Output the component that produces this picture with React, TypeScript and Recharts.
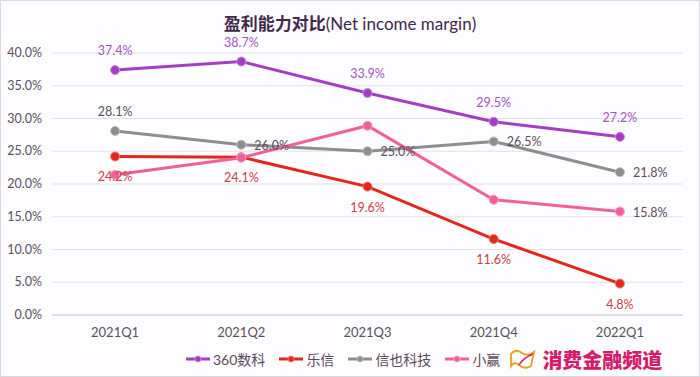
import React from "react";
import { LineChart, Line, XAxis, YAxis, CartesianGrid, Legend } from "recharts";

const quarters = ["2021Q1", "2021Q2", "2021Q3", "2021Q4", "2022Q1"];
const s360 = [37.4, 38.7, 33.9, 29.5, 27.2];
const sLexin = [24.2, 24.1, 19.6, 11.6, 4.8];
const sXinye = [28.1, 26.0, 25.0, 26.5, 21.8];
const sXiaoying = [21.4, 24.0, 28.9, 17.6, 15.8];
const yTicks = [0, 5, 10, 15, 20, 25, 30, 35, 40];

const seriesNames = ["360数科", "乐信", "信也科技", "小赢"];
const colors = ["#a43fc4", "#e2281c", "#8e8e8e", "#f0609a"];
const dotStroke = ["#c98ade", "#f07a70", "#bdbdbd", "#f7a0c2"];

const data = quarters.map((q, i) => ({
  q,
  a: s360[i],
  b: sLexin[i],
  c: sXinye[i],
  d: sXiaoying[i],
}));

const FONT = "Lato, 'Noto Sans CJK SC', sans-serif";

const fmt = (v: number) => `${v.toFixed(1)}%`;

const makeLabel = (
  color: string,
  pos: (index: number) => "top" | "bottom" | "right" | null
) => (props: any) => {
  const { x, y, value, index } = props;
  const p = pos(index);
  if (!p) return null;
  let tx = x;
  let ty = y;
  let anchor: "middle" | "start" = "middle";
  if (p === "top") ty = y - 15;
  if (p === "bottom") ty = y + 25;
  if (p === "right") {
    tx = x + 13;
    ty = y + 5;
    anchor = "start";
  }
  return (
    <text x={tx} y={ty} fill={color} fontSize={12.5} textAnchor={anchor} fontFamily={FONT}>
      {fmt(value)}
    </text>
  );
};

const XTick = (props: any) => {
  const { x, y, payload } = props;
  return (
    <text x={x} y={y + 14} fill="#5a5060" fontSize={13} textAnchor="middle" fontFamily={FONT}>
      {payload.value}
    </text>
  );
};

const YTick = (props: any) => {
  const { x, y, payload } = props;
  return (
    <text x={x - 2} y={y + 4} fill="#5a5060" fontSize={12.5} textAnchor="end" fontFamily={FONT}>
      {fmt(payload.value)}
    </text>
  );
};

const LegendContent = () => (
  <div
    style={{
      display: "flex",
      alignItems: "center",
      fontFamily: FONT,
      fontSize: 14,
      color: "#5a4a60",
      paddingLeft: 185,
      height: 28,
      whiteSpace: "nowrap",
      width: 698,
      boxSizing: "border-box",
    }}
  >
    {seriesNames.map((n, i) => (
      <div key={n} style={{ display: "flex", alignItems: "center", marginRight: i === 3 ? 8 : 14 }}>
        <svg width={24} height={10} style={{ marginRight: 3 }}>
          <line x1={0} y1={5} x2={24} y2={5} stroke={colors[i]} strokeWidth={3} />
          <circle cx={12} cy={5} r={3} fill={colors[i]} stroke={dotStroke[i]} strokeWidth={1} />
        </svg>
        <span>{n}</span>
      </div>
    ))}
    <svg width={28} height={26} style={{ marginRight: 6 }}>
      <path
        d="M3 8 Q8 2 14 7 Q20 11 26 6 L23 20 Q17 24 11 19 Q6 15 3 20 Z"
        fill="none"
        stroke="#e8a020"
        strokeWidth={1.8}
      />
      <path d="M11 19 Q15 12 25 8" fill="none" stroke="#d81e6a" strokeWidth={1.5} />
    </svg>
    <span
      style={{
        color: "#d41c6c",
        fontWeight: 900,
        fontSize: 20,
        fontFamily: "'Noto Sans CJK SC', sans-serif",
      }}
    >
      消费金融频道
    </span>
  </div>
);

export default function App() {
  return (
    <div
      style={{
        position: "fixed",
        left: 0,
        top: 0,
        width: 700,
        height: 377,
        background: "#fdfcfe",
        boxSizing: "border-box",
        border: "1px solid #dcd8e0",
      }}
    >
      <div
        style={{
          position: "absolute",
          top: 9,
          width: "100%",
          textAlign: "center",
          fontFamily: FONT,
          fontSize: 17,
          color: "#43284a",
        }}
      >
        <span style={{ fontWeight: 700, fontFamily: "'Noto Sans CJK SC', sans-serif" }}>盈利能力对比</span>
        <span>(Net income margin)</span>
      </div>
      <LineChart
        width={698}
        height={375}
        data={data}
        margin={{ top: 52, right: 16, bottom: 3, left: 0 }}
      >
        <CartesianGrid vertical={false} stroke="#e2e0e6" strokeWidth={1} />
        <XAxis
          dataKey="q"
          scale="band"
          axisLine={{ stroke: "#d0ccd4" }}
          tickLine={false}
          tick={<XTick />}
          height={30}
          interval={0}
        />
        <YAxis
          domain={[0, 40]}
          ticks={yTicks}
          axisLine={false}
          tickLine={false}
          tick={<YTick />}
          width={51}
          interval={0}
        />
        <Legend
          verticalAlign="bottom"
          content={<LegendContent />}
          wrapperStyle={{ left: 0, width: 698 }}
        />
        <Line
          dataKey="a"
          name={seriesNames[0]}
          stroke={colors[0]}
          strokeWidth={3}
          dot={{ r: 4.5, fill: colors[0], stroke: dotStroke[0], strokeWidth: 1 }}
          isAnimationActive={false}
          label={makeLabel("#a455c0", () => "top")}
        />
        <Line
          dataKey="b"
          name={seriesNames[1]}
          stroke={colors[1]}
          strokeWidth={3}
          dot={{ r: 4.5, fill: colors[1], stroke: dotStroke[1], strokeWidth: 1 }}
          isAnimationActive={false}
          label={makeLabel("#c8404a", () => "bottom")}
        />
        <Line
          dataKey="c"
          name={seriesNames[2]}
          stroke={colors[2]}
          strokeWidth={3}
          dot={{ r: 4.5, fill: colors[2], stroke: dotStroke[2], strokeWidth: 1 }}
          isAnimationActive={false}
          label={makeLabel("#5a5060", (i) => (i === 0 ? "top" : "right"))}
        />
        <Line
          dataKey="d"
          name={seriesNames[3]}
          stroke={colors[3]}
          strokeWidth={3}
          dot={{ r: 4.5, fill: colors[3], stroke: dotStroke[3], strokeWidth: 1 }}
          isAnimationActive={false}
          label={makeLabel("#5a5060", (i) => (i === quarters.length - 1 ? "right" : null))}
        />
      </LineChart>
    </div>
  );
}
